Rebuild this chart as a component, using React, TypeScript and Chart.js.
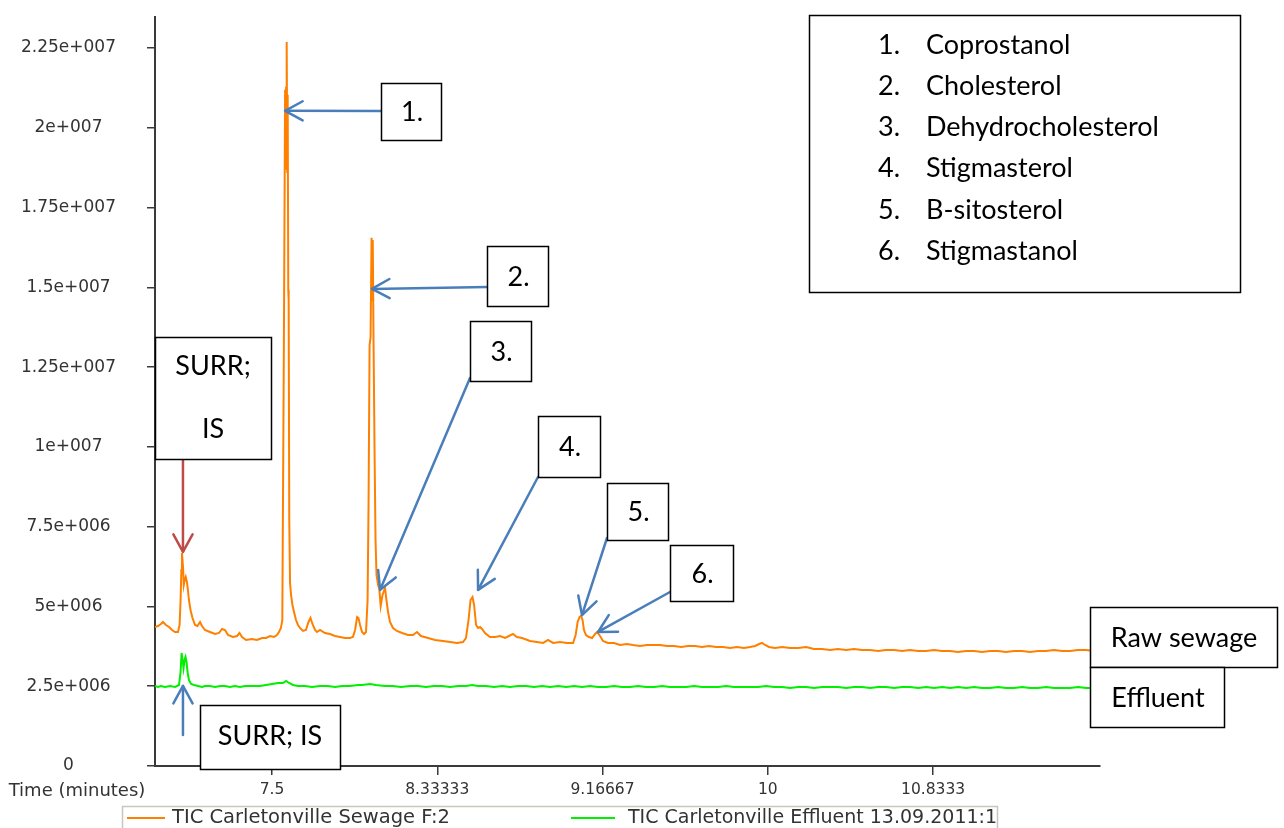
import React, { useEffect, useRef } from 'react';
import { Chart, registerables } from 'chart.js';

Chart.register(...registerables);

// ---------- data ----------
const sewageTimes = [
  6.910, 6.925, 6.940, 6.950, 6.965, 6.981, 6.996, 7.011, 7.026, 7.034,
  7.039, 7.043, 7.046, 7.051, 7.055, 7.060, 7.065, 7.071, 7.076, 7.081,
  7.089, 7.099, 7.112, 7.124, 7.137, 7.147, 7.162, 7.187, 7.213, 7.233,
  7.248, 7.263, 7.278, 7.303, 7.324, 7.336, 7.349, 7.369, 7.399, 7.424,
  7.450, 7.470, 7.490, 7.510, 7.525, 7.535, 7.545, 7.552, 7.560, 7.566,
  7.568, 7.571, 7.574, 7.577, 7.579, 7.582, 7.584, 7.587, 7.591, 7.596,
  7.603, 7.611, 7.621, 7.631, 7.641, 7.656, 7.671, 7.684, 7.694, 7.704,
  7.717, 7.727, 7.742, 7.767, 7.792, 7.818, 7.843, 7.868, 7.893, 7.908,
  7.919, 7.929, 7.936, 7.944, 7.954, 7.964, 7.974, 7.982, 7.987, 7.992,
  7.997, 8.002, 8.005, 8.008, 8.012, 8.017, 8.022, 8.027, 8.035, 8.041,
  8.048, 8.057, 8.070, 8.077, 8.085, 8.095, 8.110, 8.130, 8.156, 8.186,
  8.211, 8.231, 8.251, 8.287, 8.322, 8.362, 8.398, 8.433, 8.463, 8.478,
  8.491, 8.501, 8.511, 8.519, 8.529, 8.539, 8.549, 8.559, 8.574, 8.599,
  8.625, 8.650, 8.675, 8.695, 8.715, 8.735, 8.761, 8.801, 8.836, 8.867,
  8.892, 8.917, 8.952, 8.988, 9.018, 9.031, 9.041, 9.051, 9.058, 9.066,
  9.073, 9.083, 9.098, 9.114, 9.129, 9.139, 9.154, 9.169, 9.194, 9.225,
  9.255, 9.290, 9.320, 9.356, 9.391, 9.421, 9.457, 9.492, 9.527, 9.563,
  9.598, 9.633, 9.668, 9.704, 9.739, 9.774, 9.810, 9.845, 9.880, 9.910,
  9.936, 9.956, 9.971, 9.986, 10.006, 10.036, 10.072, 10.112, 10.153, 10.193,
  10.233, 10.273, 10.314, 10.354, 10.395, 10.435, 10.475, 10.516, 10.556, 10.596,
  10.637, 10.677, 10.717, 10.758, 10.798, 10.838, 10.878, 10.919, 10.959, 10.999,
  11.040, 11.080, 11.121, 11.161, 11.201, 11.242, 11.282, 11.322, 11.363, 11.403,
  11.443, 11.484, 11.524, 11.564, 11.605, 11.645, 11.675,
];

const sewageSignal = [
  4.356e6, 4.387e6, 4.450e6, 4.513e6, 4.419e6, 4.356e6, 4.262e6, 4.199e6, 4.199e6, 4.419e6,
  5.202e6, 6.142e6, 6.675e6, 6.267e6, 5.672e6, 5.829e6, 5.923e6, 5.766e6, 5.515e6, 5.202e6,
  4.889e6, 4.638e6, 4.419e6, 4.387e6, 4.513e6, 4.387e6, 4.262e6, 4.199e6, 4.137e6, 4.168e6,
  4.293e6, 4.262e6, 4.105e6, 4.043e6, 4.074e6, 4.168e6, 4.043e6, 3.948e6, 3.979e6, 3.948e6,
  4.011e6, 4.011e6, 4.074e6, 4.043e6, 4.105e6, 4.199e6, 4.325e6, 4.575e6, 13.35e6, 21.19e6,
  18.68e6, 21.25e6, 22.69e6, 18.61e6, 21.03e6, 14.92e6, 14.60e6, 7.71e6, 5.73e6, 5.359e6,
  5.045e6, 4.826e6, 4.575e6, 4.419e6, 4.325e6, 4.231e6, 4.262e6, 4.513e6, 4.638e6, 4.450e6,
  4.262e6, 4.199e6, 4.262e6, 4.168e6, 4.137e6, 4.074e6, 4.043e6, 4.011e6, 4.011e6, 4.043e6,
  4.262e6, 4.669e6, 4.638e6, 4.419e6, 4.199e6, 4.137e6, 4.199e6, 5.20e6, 8.34e6, 13.19e6,
  13.44e6, 16.55e6, 14.60e6, 16.48e6, 13.35e6, 9.90e6, 7.08e6, 5.99e6, 5.67e6, 5.547e6,
  5.014e6, 5.359e6, 5.578e6, 5.20e6, 4.826e6, 4.513e6, 4.325e6, 4.231e6, 4.168e6, 4.105e6,
  4.105e6, 4.199e6, 4.074e6, 4.011e6, 3.948e6, 3.917e6, 3.886e6, 3.855e6, 3.886e6, 4.011e6,
  4.575e6, 5.202e6, 5.296e6, 5.045e6, 4.419e6, 4.325e6, 4.356e6, 4.293e6, 4.168e6, 4.043e6,
  4.043e6, 4.074e6, 4.011e6, 4.074e6, 4.137e6, 4.043e6, 4.011e6, 3.917e6, 3.886e6, 3.855e6,
  3.948e6, 3.855e6, 3.886e6, 3.855e6, 3.855e6, 4.105e6, 4.513e6, 4.669e6, 4.701e6, 4.575e6,
  4.262e6, 4.105e6, 4.043e6, 4.011e6, 4.137e6, 4.199e6, 4.074e6, 3.917e6, 3.855e6, 3.855e6,
  3.792e6, 3.823e6, 3.792e6, 3.760e6, 3.792e6, 3.792e6, 3.792e6, 3.760e6, 3.760e6, 3.729e6,
  3.760e6, 3.760e6, 3.729e6, 3.760e6, 3.729e6, 3.729e6, 3.698e6, 3.729e6, 3.698e6, 3.729e6,
  3.760e6, 3.823e6, 3.855e6, 3.792e6, 3.729e6, 3.698e6, 3.729e6, 3.698e6, 3.698e6, 3.729e6,
  3.666e6, 3.666e6, 3.635e6, 3.666e6, 3.635e6, 3.666e6, 3.635e6, 3.635e6, 3.604e6, 3.635e6,
  3.635e6, 3.604e6, 3.635e6, 3.604e6, 3.604e6, 3.635e6, 3.604e6, 3.604e6, 3.572e6, 3.604e6,
  3.604e6, 3.572e6, 3.604e6, 3.604e6, 3.572e6, 3.604e6, 3.604e6, 3.572e6, 3.604e6, 3.604e6,
  3.635e6, 3.604e6, 3.604e6, 3.635e6, 3.635e6, 3.604e6, 3.604e6,
];

const effluentTimes = [
  6.910, 6.925, 6.940, 6.960, 6.986, 7.011, 7.031, 7.039, 7.044, 7.049,
  7.054, 7.059, 7.064, 7.069, 7.074, 7.081, 7.092, 7.107, 7.127, 7.147,
  7.162, 7.187, 7.213, 7.238, 7.263, 7.288, 7.313, 7.339, 7.364, 7.389,
  7.414, 7.439, 7.470, 7.500, 7.530, 7.555, 7.571, 7.586, 7.606, 7.631,
  7.667, 7.702, 7.742, 7.782, 7.818, 7.853, 7.893, 7.934, 7.954, 7.994,
  8.024, 8.070, 8.110, 8.150, 8.196, 8.236, 8.276, 8.317, 8.357, 8.398,
  8.438, 8.478, 8.509, 8.539, 8.579, 8.620, 8.660, 8.700, 8.741, 8.781,
  8.821, 8.862, 8.902, 8.942, 8.983, 9.023, 9.063, 9.104, 9.144, 9.184,
  9.225, 9.265, 9.305, 9.346, 9.386, 9.427, 9.467, 9.507, 9.548, 9.588,
  9.628, 9.669, 9.709, 9.749, 9.790, 9.830, 9.870, 9.911, 9.951, 9.991,
  10.032, 10.072, 10.112, 10.153, 10.193, 10.233, 10.274, 10.314, 10.354, 10.395,
  10.435, 10.475, 10.516, 10.556, 10.596, 10.637, 10.677, 10.717, 10.758, 10.798,
  10.838, 10.879, 10.919, 10.959, 11.000, 11.040, 11.080, 11.121, 11.161, 11.201,
  11.242, 11.282, 11.322, 11.363, 11.403, 11.443, 11.484, 11.524, 11.564, 11.605,
  11.645, 11.675,
];

const effluentSignal = [
  2.507e6, 2.476e6, 2.507e6, 2.476e6, 2.507e6, 2.476e6, 2.538e6, 2.946e6, 3.541e6, 3.322e6,
  3.071e6, 3.322e6, 3.416e6, 3.259e6, 2.946e6, 2.695e6, 2.570e6, 2.538e6, 2.507e6, 2.476e6,
  2.507e6, 2.507e6, 2.476e6, 2.507e6, 2.507e6, 2.476e6, 2.507e6, 2.476e6, 2.507e6, 2.507e6,
  2.507e6, 2.507e6, 2.538e6, 2.570e6, 2.601e6, 2.601e6, 2.664e6, 2.601e6, 2.538e6, 2.507e6,
  2.507e6, 2.476e6, 2.507e6, 2.507e6, 2.476e6, 2.507e6, 2.507e6, 2.538e6, 2.538e6, 2.570e6,
  2.538e6, 2.507e6, 2.507e6, 2.476e6, 2.507e6, 2.507e6, 2.476e6, 2.507e6, 2.507e6, 2.476e6,
  2.507e6, 2.507e6, 2.538e6, 2.507e6, 2.507e6, 2.476e6, 2.507e6, 2.476e6, 2.507e6, 2.507e6,
  2.476e6, 2.507e6, 2.476e6, 2.507e6, 2.476e6, 2.507e6, 2.476e6, 2.507e6, 2.476e6, 2.476e6,
  2.507e6, 2.476e6, 2.476e6, 2.507e6, 2.476e6, 2.476e6, 2.507e6, 2.476e6, 2.476e6, 2.476e6,
  2.507e6, 2.476e6, 2.476e6, 2.476e6, 2.507e6, 2.476e6, 2.476e6, 2.476e6, 2.476e6, 2.507e6,
  2.476e6, 2.476e6, 2.445e6, 2.476e6, 2.476e6, 2.445e6, 2.476e6, 2.476e6, 2.476e6, 2.445e6,
  2.476e6, 2.476e6, 2.445e6, 2.476e6, 2.476e6, 2.445e6, 2.476e6, 2.476e6, 2.445e6, 2.476e6,
  2.445e6, 2.476e6, 2.445e6, 2.476e6, 2.445e6, 2.476e6, 2.445e6, 2.445e6, 2.476e6, 2.445e6,
  2.445e6, 2.476e6, 2.445e6, 2.445e6, 2.476e6, 2.445e6, 2.445e6, 2.445e6, 2.476e6, 2.445e6,
  2.445e6, 2.445e6,
];

const xTickValues = [7.5, 8.33333, 9.16667, 10, 10.8333];
const xTickLabels = ['7.5', '8.33333', '9.16667', '10', '10.8333'];
const yTickValues = [0, 2.5e6, 5e6, 7.5e6, 1e7, 1.25e7, 1.5e7, 1.75e7, 2e7, 2.25e7];
const yTickLabels = ['0', '2.5e+006', '5e+006', '7.5e+006', '1e+007', '1.25e+007', '1.5e+007', '1.75e+007', '2e+007', '2.25e+007'];
const seriesNames = ['TIC Carletonville Sewage F:2', 'TIC Carletonville Effluent 13.09.2011:1'];
const compoundNumbers = ['1.', '2.', '3.', '4.', '5.', '6.'];
const compoundNames = ['Coprostanol', 'Cholesterol', 'Dehydrocholesterol', 'Stigmasterol', 'B-sitosterol', 'Stigmastanol'];
// arrow tips (peak positions: time, signal)
const peakTipTimes = [7.566, 8.004, 8.045, 8.539, 9.063, 9.144];
const peakTipSignals = [20.53e6, 14.95e6, 5.52e6, 5.52e6, 4.73e6, 4.20e6];
const surrTipTime = 7.051;
const surrSewageTip = 6.71e6;
const surrEffluentTip = 2.51e6;

// ---------- layout / style ----------
const W = 1284;
const H = 828;
const ORANGE = '#ff8000';
const GREEN = '#00f000';
const BLUE = '#4a7ebb';
const RED = '#be4b48';
const AXIS = '#3a3a3a';
const LABEL_FONT = '"DejaVu Sans", Verdana, sans-serif';
const NOTE_FONT = 'Lato, "Open Sans", sans-serif';

// callout boxes: [left, top, width, height], arrow start point
const calloutBoxes = [
  { box: [381, 83, 60, 57], from: [381, 111] },
  { box: [487, 246, 61, 60], from: [487, 287] },
  { box: [470, 321, 61, 60], from: [470, 378] },
  { box: [538, 416, 62, 61], from: [538, 477] },
  { box: [607, 483, 61, 57], from: [607, 538] },
  { box: [670, 545, 63, 56], from: [670, 592] },
];

function drawArrow(ctx: CanvasRenderingContext2D, x1: number, y1: number, x2: number, y2: number, color: string) {
  ctx.save();
  ctx.strokeStyle = color;
  ctx.lineWidth = 2.5;
  ctx.lineCap = 'round';
  ctx.lineJoin = 'round';
  ctx.beginPath();
  ctx.moveTo(x1, y1);
  ctx.lineTo(x2, y2);
  ctx.stroke();
  const ang = Math.atan2(y2 - y1, x2 - x1);
  const len = 20;
  const spread = 0.5;
  ctx.beginPath();
  ctx.moveTo(x2 - len * Math.cos(ang - spread), y2 - len * Math.sin(ang - spread));
  ctx.lineTo(x2, y2);
  ctx.lineTo(x2 - len * Math.cos(ang + spread), y2 - len * Math.sin(ang + spread));
  ctx.stroke();
  ctx.restore();
}

function drawBox(ctx: CanvasRenderingContext2D, l: number, t: number, w: number, h: number) {
  ctx.save();
  ctx.fillStyle = '#ffffff';
  ctx.fillRect(l, t, w, h);
  ctx.strokeStyle = '#000000';
  ctx.lineWidth = 1.5;
  ctx.strokeRect(l + 0.5, t + 0.5, w, h);
  ctx.restore();
}

function drawText(ctx: CanvasRenderingContext2D, text: string, x: number, y: number, font: string, align: CanvasTextAlign, color = '#000') {
  ctx.save();
  ctx.font = font;
  ctx.fillStyle = color;
  ctx.textAlign = align;
  ctx.textBaseline = 'middle';
  ctx.fillText(text, x, y);
  ctx.restore();
}

const annotationPlugin = {
  id: 'chromAnnotations',
  afterDraw(chart: any) {
    const ctx: CanvasRenderingContext2D = chart.ctx;
    const xs = chart.scales.x;
    const ys = chart.scales.y;
    const noteFont = `27px ${NOTE_FONT}`;

    // axis caption
    drawText(ctx, 'Time (minutes)', 77, 791, `18px ${LABEL_FONT}`, 'center', '#333');

    // numbered callouts
    calloutBoxes.forEach((c, i) => {
      const tx = xs.getPixelForValue(peakTipTimes[i]);
      const ty = ys.getPixelForValue(peakTipSignals[i]);
      drawArrow(ctx, c.from[0], c.from[1], tx, ty, BLUE);
    });
    calloutBoxes.forEach((c, i) => {
      const [l, t, w, h] = c.box;
      drawBox(ctx, l, t, w, h);
      drawText(ctx, compoundNumbers[i], l + w / 2 + 1, t + h / 2 + 1, noteFont, 'center');
    });

    // SURR; IS (sewage)
    const sx = xs.getPixelForValue(surrTipTime);
    drawArrow(ctx, sx, 459, sx, ys.getPixelForValue(surrSewageTip), RED);
    drawBox(ctx, 155, 337, 116, 122);
    drawText(ctx, 'SURR;', 213, 366, noteFont, 'center');
    drawText(ctx, 'IS', 213, 429, noteFont, 'center');

    // SURR; IS (effluent)
    drawArrow(ctx, sx, 735, sx, ys.getPixelForValue(surrEffluentTip), BLUE);
    drawBox(ctx, 200, 705, 140, 64);
    drawText(ctx, 'SURR; IS', 270, 736, noteFont, 'center');

    // series tags
    drawBox(ctx, 1090, 607, 187, 60);
    drawText(ctx, 'Raw sewage', 1184, 638, noteFont, 'center');
    drawBox(ctx, 1090, 667, 134, 60);
    drawText(ctx, 'Effluent', 1158, 698, noteFont, 'center');

    // compound list
    drawBox(ctx, 809, 15, 431, 277);
    compoundNames.forEach((name, i) => {
      const y = 45 + i * 41.2;
      drawText(ctx, compoundNumbers[i], 878, y, noteFont, 'left');
      drawText(ctx, name, 926, y, noteFont, 'left');
    });

    // bottom legend
    ctx.save();
    ctx.strokeStyle = '#c9c6be';
    ctx.lineWidth = 1.5;
    ctx.strokeRect(122.5, 806.5, 875, 30);
    ctx.lineWidth = 2;
    ctx.strokeStyle = ORANGE;
    ctx.beginPath(); ctx.moveTo(127, 818); ctx.lineTo(165, 818); ctx.stroke();
    ctx.strokeStyle = GREEN;
    ctx.beginPath(); ctx.moveTo(571, 818); ctx.lineTo(615, 818); ctx.stroke();
    ctx.restore();
    drawText(ctx, seriesNames[0], 172, 818, `19.5px ${LABEL_FONT}`, 'left', '#333');
    drawText(ctx, seriesNames[1], 628, 818, `19px ${LABEL_FONT}`, 'left', '#333');
  },
};

export default function App() {
  const canvasRef = useRef<HTMLCanvasElement | null>(null);

  useEffect(() => {
    document.body.style.margin = '0';
    const canvas = canvasRef.current;
    if (!canvas) return;
    const chart = new Chart(canvas, {
      type: 'line',
      data: {
        datasets: [
          {
            label: seriesNames[0],
            data: sewageTimes.map((t, i) => ({ x: t, y: sewageSignal[i] })),
            borderColor: ORANGE,
            borderWidth: 2,
            pointRadius: 0,
            tension: 0,
          },
          {
            label: seriesNames[1],
            data: effluentTimes.map((t, i) => ({ x: t, y: effluentSignal[i] })),
            borderColor: GREEN,
            borderWidth: 2,
            pointRadius: 0,
            tension: 0,
          },
        ],
      },
      options: {
        animation: false,
        responsive: false,
        devicePixelRatio: 1,
        layout: { padding: { left: 0, right: 184, top: 17, bottom: 0 } },
        plugins: {
          legend: { display: false },
          tooltip: { enabled: false },
          title: { display: false },
        },
        scales: {
          x: {
            type: 'linear',
            min: 6.91,
            max: 11.675,
            afterBuildTicks: (s: any) => { s.ticks = xTickValues.map((v) => ({ value: v })); },
            afterFit: (s: any) => { s.height = H - 766; s.paddingLeft = 0; s.paddingRight = 0; },
            grid: { drawOnChartArea: false, drawTicks: true, tickLength: 9, color: AXIS, lineWidth: 1.5 },
            border: { display: true, color: AXIS, width: 2 },
            ticks: {
              autoSkip: false,
              maxRotation: 0,
              padding: 6,
              color: '#333',
              font: { family: LABEL_FONT, size: 15.5 },
              callback: (_v: any, i: number) => xTickLabels[i],
            },
          },
          y: {
            type: 'linear',
            min: 0,
            max: 23.47e6,
            afterBuildTicks: (s: any) => { s.ticks = yTickValues.map((v) => ({ value: v })); },
            afterFit: (s: any) => { s.width = 155; s.paddingTop = 0; s.paddingBottom = 0; },
            grid: { drawOnChartArea: false, drawTicks: true, tickLength: 8, color: AXIS, lineWidth: 1.5 },
            border: { display: true, color: AXIS, width: 2 },
            ticks: {
              crossAlign: 'center',
              padding: 31,
              color: '#333',
              font: { family: LABEL_FONT, size: 17 },
              callback: (_v: any, i: number) => yTickLabels[i],
            },
          },
        },
      },
      plugins: [annotationPlugin],
    } as any);
    return () => chart.destroy();
  }, []);

  return (
    <div style={{ position: 'absolute', left: 0, top: 0, width: W, height: H, background: '#fff' }}>
      <canvas ref={canvasRef} width={W} height={H} style={{ display: 'block', width: W, height: H }} />
    </div>
  );
}
